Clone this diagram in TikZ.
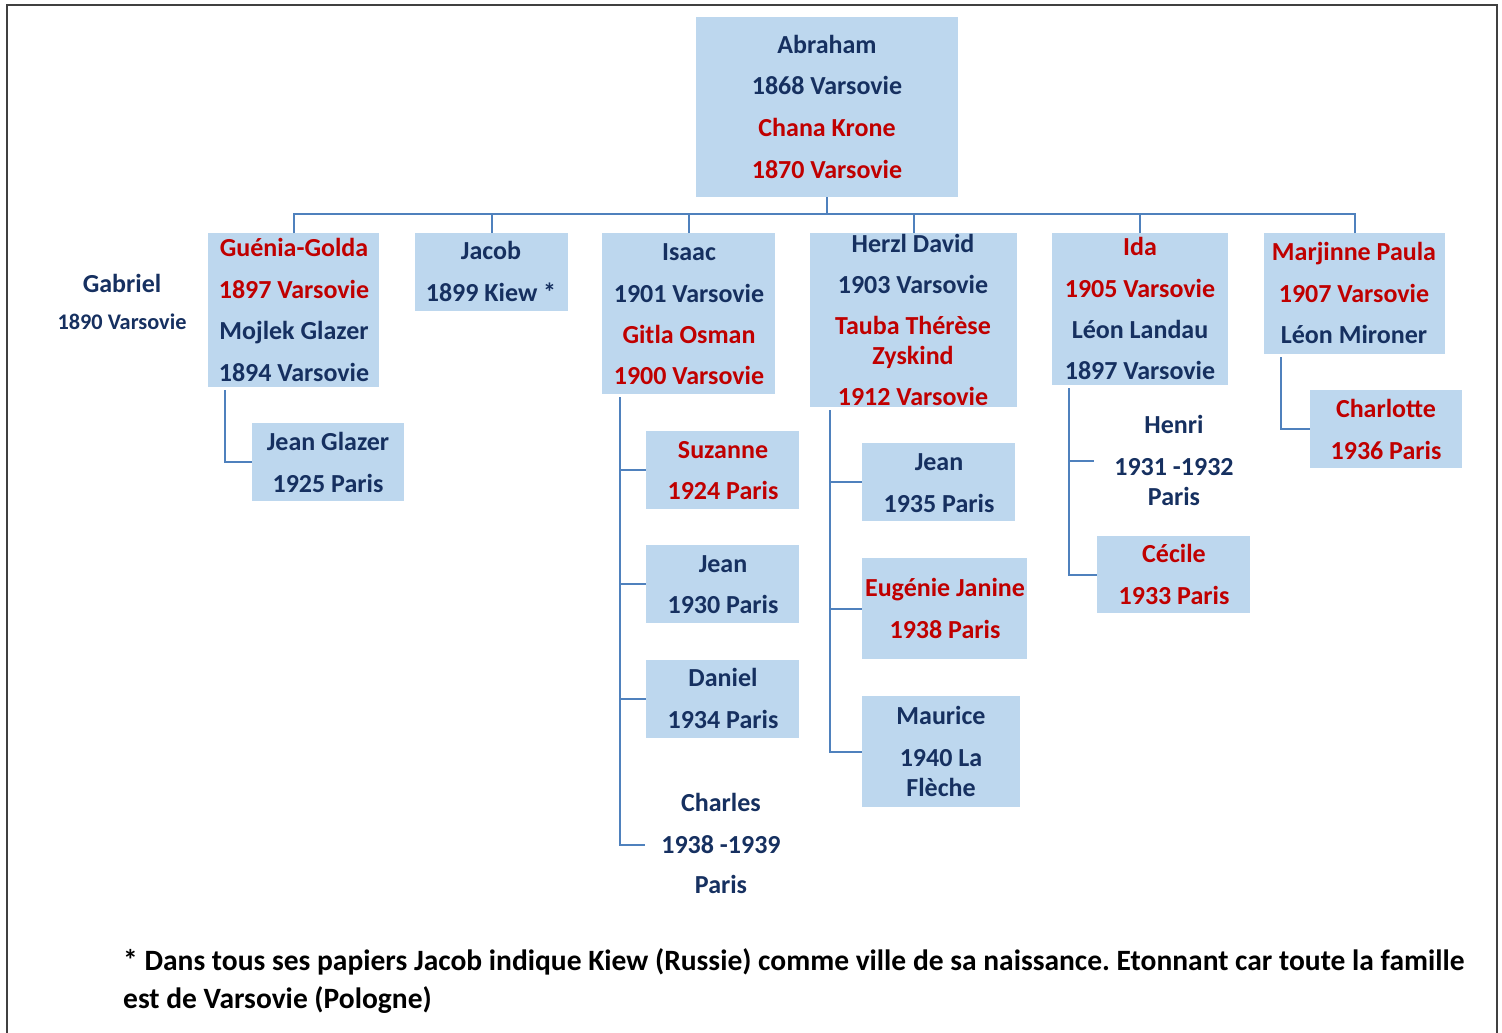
\documentclass[tikz,border=0pt]{standalone}
\usepackage{fontspec}
\setmainfont{Carlito}
\frenchspacing
\definecolor{nv}{RGB}{22,48,96}
\definecolor{rd}{RGB}{192,0,0}
\definecolor{bx}{RGB}{189,215,238}
\definecolor{ln}{RGB}{79,129,189}
\definecolor{fr}{RGB}{64,64,64}
\newcommand\famBox[5]{\node[box,minimum width=#4pt-#2pt,minimum height=#5pt-#3pt] (#1) at ({(#2+#4)/2},{(#3+#5)/2}) {};}
\newcommand\famLines[3]{\foreach \yy/\lcol/\ltxt [count=\i] in {#3} {\node[txt,text=\lcol,anchor=base] (#1-\i) at (#2,\yy+9) {\ltxt};}}
\begin{document}
\begin{tikzpicture}[x=1pt,y=-1pt,
 box/.style={fill=bx,draw=none,inner sep=0pt,outer sep=0pt},
 txt/.style={inner sep=0pt,font=\fontsize{26}{30}\selectfont\bfseries},
 small/.style={inner sep=0pt,font=\fontsize{22.3}{26}\selectfont\bfseries},
 note/.style={inner sep=0pt,font=\fontsize{29.5}{34}\selectfont\bfseries,text=black},
 conn/.style={draw=ln,line width=2pt},
 framed/.style={draw=fr,line width=2pt}]
\useasboundingbox (0,0) rectangle (1502,1033);
\draw[framed] (7,1033) -- (7,5) -- (1497,5) -- (1497,1033);
% boxes
\famBox{abr}{696}{17}{958}{197}
\famBox{gue}{208}{233}{379}{387}
\famBox{jac}{415}{233}{568}{311}
\famBox{isa}{602}{233}{775}{394}
\famBox{her}{810}{233}{1017}{407}
\famBox{ida}{1052}{233}{1228}{385}
\famBox{mar}{1264}{233}{1445}{354}
\famBox{jgl}{252}{423}{404}{501}
\famBox{suz}{646}{431}{799}{509}
\famBox{jeanA}{646}{545}{799}{623}
\famBox{dan}{646}{660}{799}{738}
\famBox{jeanB}{862}{443}{1015}{521}
\famBox{eug}{862}{558}{1027}{659}
\famBox{mau}{862}{696}{1020}{807}
\famBox{cec}{1097}{536}{1250}{613}
\famBox{cha}{1310}{390}{1462}{468}
\coordinate (bus) at (827,214);
\coordinate (chaE) at (645,845);
\coordinate (henE) at (1094,461);
% connectors
\draw[conn] (abr.south) -- (abr.south |- bus);
\foreach \n in {gue,jac,isa,her,ida,mar} {\draw[conn] (\n.north) |- (bus);}
\draw[conn] ([xshift=17pt,yshift=-3pt]gue.south west) |- (jgl.west);
\foreach \n in {suz.west,jeanA.west,dan.west,chaE} {\draw[conn] ([xshift=18pt,yshift=-3pt]isa.south west) |- (\n);}
\foreach \n in {jeanB.west,eug.west,mau.west} {\draw[conn] ([xshift=20pt,yshift=-3pt]her.south west) |- (\n);}
\foreach \n in {henE,cec.west} {\draw[conn] ([xshift=17pt,yshift=-3pt]ida.south west) |- (\n);}
\draw[conn] ([xshift=17pt,yshift=-3pt]mar.south west) |- (cha.west);
% texts
\famLines{abrT}{827}{45/nv/Abraham,86/nv/1868 Varsovie,127/rd/Chana Krone,169/rd/1870 Varsovie}
\node[txt,text=nv,anchor=base] (gab1) at (122,292) {Gabriel};
\node[small,text=nv,anchor=base] (gab2) at (122,329) {1890 Varsovie};
\famLines{gueT}{294}{247/rd/Guénia-Golda,289/rd/1897 Varsovie,330/nv/Mojlek Glazer,372/nv/1894 Varsovie}
\famLines{jacT}{491}{250/nv/Jacob,292/nv/1899 Kiew *}
\famLines{isaT}{689}{251/nv/Isaac,293/nv/1901 Varsovie,334/rd/Gitla Osman,375/rd/1900 Varsovie}
\famLines{herT}{913}{243/nv/Herzl David,284/nv/1903 Varsovie,325/rd/Tauba Thérèse,355/rd/Zyskind,396/rd/1912 Varsovie}
\famLines{idaT}{1140}{246/rd/Ida,288/rd/1905 Varsovie,329/nv/Léon Landau,370/nv/1897 Varsovie}
\famLines{marT}{1354}{251/rd/Marjinne Paula,293/rd/1907 Varsovie,334/nv/Léon Mironer}
\famLines{jglT}{328}{441/nv/Jean Glazer,483/nv/1925 Paris}
\famLines{suzT}{723}{449/rd/Suzanne,490/rd/1924 Paris}
\famLines{jeanAT}{723}{563/nv/Jean,604/nv/1930 Paris}
\famLines{danT}{723}{677/nv/Daniel,719/nv/1934 Paris}
\famLines{chaT}{721}{802/nv/Charles,844/nv/1938 -1939,884/nv/Paris}
\famLines{jeanBT}{939}{461/nv/Jean,503/nv/1935 Paris}
\famLines{eugT}{945}{587/rd/Eugénie Janine,629/rd/1938 Paris}
\famLines{mauT}{941}{715/nv/Maurice,757/nv/1940 La,787/nv/Flèche}
\famLines{henT}{1174}{424/nv/Henri,466/nv/1931 -1932,496/nv/Paris}
\famLines{cecT}{1174}{553/rd/Cécile,595/rd/1933 Paris}
\famLines{chlT}{1386}{408/rd/Charlotte,450/rd/1936 Paris}
\node[note,anchor=base west] (fn1) at (123,970) {* Dans tous ses papiers Jacob indique Kiew (Russie) comme ville de sa naissance. Etonnant car toute la famille};
\node[note,anchor=base west] (fn2) at (123,1008) {est de Varsovie (Pologne)};
\end{tikzpicture}
\end{document}
